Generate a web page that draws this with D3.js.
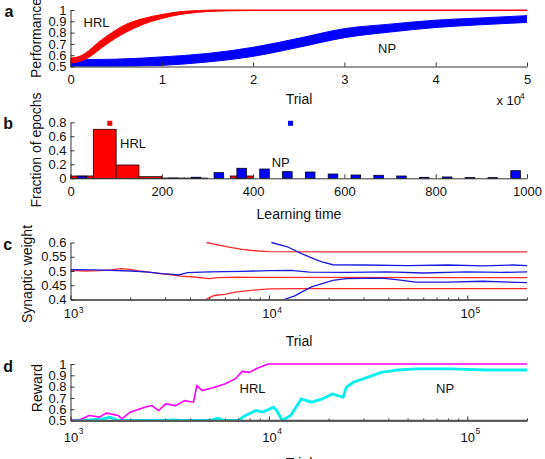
<!DOCTYPE html>
<html>
<head>
<meta charset="utf-8">
<script src="https://cdn.jsdelivr.net/npm/d3@7"></script>
<style>
  body { margin: 0; background: #fff; }
  svg { display: block; font-family: 'Liberation Sans', Arial, Helvetica, sans-serif; }
  .axis path, .axis line { stroke: #333; stroke-width: 1; }
  .axis text { font-size: 13px; fill: #111; }
  .axis text.sup { font-size: 8.5px; }
  .axis-title { font-size: 14px; fill: #111; }
  .series-label { font-size: 13px; fill: #111; }
  .panel-letter { font-size: 16px; font-weight: bold; fill: #111; }
</style>
</head>
<body>
<svg id="chart" width="545" height="459"></svg>
<script>
// panel a: performance envelopes (trial, low, high)
const hrlPerfTrials = [0, 1000, 2000, 3000, 4000, 6000, 8000, 10000, 12000, 14000, 16000, 20000, 50000]
const hrlPerfLow  = [0.53, 0.545, 0.58, 0.64, 0.70, 0.80, 0.875, 0.925, 0.96, 0.98, 0.99, 0.995, 0.995]
const hrlPerfHigh = [0.575, 0.59, 0.64, 0.71, 0.77, 0.87, 0.925, 0.96, 0.985, 0.995, 1.0, 1.0, 1.0]
const npPerfTrials = [0, 5000, 10000, 15000, 20000, 25000, 30000, 35000, 40000, 45000, 50000]
const npPerfLow  = [0.50, 0.50, 0.51, 0.54, 0.59, 0.67, 0.755, 0.805, 0.845, 0.87, 0.89]
const npPerfHigh = [0.56, 0.565, 0.585, 0.615, 0.67, 0.75, 0.835, 0.875, 0.91, 0.93, 0.95]
const perfTicks = [0.5, 0.6, 0.7, 0.8, 0.9, 1]
const trialTicks = [0, 10000, 20000, 30000, 40000, 50000]

// panel b: histogram of learning time (bins of 50)
const binEdges = [0, 50, 100, 150, 200, 250, 300, 350, 400, 450, 500, 550, 600, 650, 700, 750, 800, 850, 900, 950]
const hrlHist = [0.033, 0.70, 0.19, 0.023, 0.004, 0.003, 0, 0.033, 0, 0, 0, 0, 0, 0, 0, 0, 0, 0, 0, 0]
const npHist  = [0.03, 0, 0, 0, 0.003, 0.015, 0.081, 0.143, 0.133, 0.095, 0.09, 0.061, 0.047, 0.043, 0.033, 0.014, 0.019, 0.01, 0.01, 0.109]
const hrlMean = [86, 0.786]
const npMean = [482, 0.786]
const fracTicks = [0, 0.2, 0.4, 0.6, 0.8]
const timeTicks = [0, 200, 400, 600, 800, 1000]

// panel c: synaptic weights [trial, weight]
const hrlWeightMid = [[1000, 0.502], [1200, 0.5], [1400, 0.501], [1600, 0.504], [1800, 0.508], [2000, 0.506], [2200, 0.5],
  [2600, 0.494], [2900, 0.49], [3300, 0.486], [3600, 0.482], [4200, 0.479], [5000, 0.473], [5500, 0.477], [7000, 0.478], [200000, 0.477]]
const hrlWeightUp = [[4850, 0.6], [5500, 0.592], [6500, 0.582], [7300, 0.576], [8500, 0.571], [10000, 0.568], [20000, 0.567], [200000, 0.567]]
const hrlWeightLow = [[4800, 0.4], [5000, 0.406], [5300, 0.414], [6000, 0.418], [6760, 0.426], [8700, 0.434], [10000, 0.437], [15000, 0.438], [200000, 0.438]]
const npWeightMid = [[1000, 0.505], [1300, 0.504], [1600, 0.502], [2000, 0.5], [2400, 0.497], [2900, 0.491], [3300, 0.488], [3500, 0.486],
  [3900, 0.494], [5000, 0.497], [7300, 0.499], [10000, 0.501], [13000, 0.502], [16000, 0.496], [25000, 0.495], [40000, 0.497],
  [60000, 0.493], [100000, 0.497], [150000, 0.495], [200000, 0.497]]
const npWeightUp = [[10300, 0.6], [12400, 0.585], [14600, 0.561], [17000, 0.542], [18500, 0.532], [21000, 0.522], [30000, 0.521],
  [50000, 0.519], [80000, 0.521], [120000, 0.518], [170000, 0.521], [200000, 0.519]]
const npWeightLow = [[11900, 0.4], [13500, 0.413], [14600, 0.426], [16400, 0.444], [21000, 0.467], [24500, 0.473], [37000, 0.475],
  [45000, 0.469], [55000, 0.461], [80000, 0.461], [120000, 0.464], [200000, 0.459]]
const weightTicks = [0.4, 0.45, 0.5, 0.55, 0.6]

// panel d: reward [trial, reward]
const hrlReward = [[1000, 0.505], [1096, 0.5], [1239, 0.544], [1400, 0.53], [1514, 0.565], [1738, 0.544], [1820, 0.515], [1995, 0.574],
  [2366, 0.618], [2570, 0.632], [2780, 0.588], [3020, 0.647], [3390, 0.632], [3758, 0.676], [4169, 0.662], [4335, 0.809],
  [4603, 0.765], [5309, 0.794], [5984, 0.824], [6761, 0.868], [7328, 0.935], [7943, 0.926], [8790, 0.965], [9908, 1.0], [200000, 1.0]]
const npReward = [[1000, 0.5], [1239, 0.505], [1450, 0.515], [1580, 0.53], [1738, 0.5], [3000, 0.5], [3300, 0.506], [3600, 0.5],
  [5000, 0.5], [5520, 0.52], [6000, 0.5], [7000, 0.5], [7621, 0.544], [8610, 0.588], [9330, 0.574], [10540, 0.618], [10960, 0.588],
  [11670, 0.5], [12880, 0.544], [14550, 0.691], [16440, 0.662], [18540, 0.691], [20890, 0.735], [23660, 0.706], [24550, 0.794],
  [26670, 0.838], [31330, 0.882], [36900, 0.926], [44670, 0.947], [55210, 0.956], [82790, 0.956], [123900, 0.947], [200000, 0.947]]
const rewardTicks = [0.5, 0.6, 0.7, 0.8, 0.9, 1]
const logMajor = [1e3, 1e4, 1e5]

const X0 = 70.5, X1 = 527
const svg = d3.select('#chart')
const fmt = d => String(+d.toFixed(2))

function yAxis(y, ticks) {
  svg.append('g')
    .attr('class', 'axis')
    .attr('transform', `translate(${X0}, 0)`)
    .call(d3.axisLeft(y).tickValues(ticks).tickFormat(fmt).tickSizeInner(-4).tickSizeOuter(0).tickPadding(4))
}

function linearXAxis(x, ticks, y0, format) {
  svg.append('g')
    .attr('class', 'axis')
    .attr('transform', `translate(0, ${y0})`)
    .call(d3.axisBottom(x).tickValues(ticks).tickFormat(format).tickSizeInner(-4).tickSizeOuter(0).tickPadding(8))
}

function logXAxis(x, y0, pad, supY) {
  let minor = []
  for (let k = 3; k <= 5; k++)
    for (let m = 2; m <= 9; m++)
      if (m * 10 ** k <= 2e5) minor.push(m * 10 ** k)
  svg.append('g')
    .attr('class', 'axis')
    .attr('transform', `translate(0, ${y0})`)
    .call(d3.axisBottom(x).tickValues(minor).tickFormat('').tickSizeInner(-2).tickSizeOuter(0))
  let major = svg.append('g')
    .attr('class', 'axis')
    .attr('transform', `translate(0, ${y0})`)
    .call(d3.axisBottom(x).tickValues(logMajor).tickFormat(() => '10').tickSizeInner(-4).tickSizeOuter(0).tickPadding(pad))
  major.selectAll('.tick').append('text')
    .attr('class', 'sup')
    .attr('x', 7.8)
    .attr('y', supY)
    .attr('dy', '0.71em')
    .style('text-anchor', 'start')
    .text(d => Math.round(Math.log10(d)))
}

function label(cls, x, y, txt, anchor) {
  return svg.append('text')
    .attr('class', cls)
    .attr('x', x)
    .attr('y', y)
    .style('text-anchor', anchor || 'start')
    .text(txt)
}

function yTitle(x, y, txt) {
  svg.append('text')
    .attr('class', 'axis-title')
    .attr('transform', `translate(${x}, ${y}) rotate(-90)`)
    .style('text-anchor', 'middle')
    .text(txt)
}

function clip(id, y) {
  svg.append('clipPath').attr('id', id)
    .append('rect')
      .attr('x', X0).attr('y', y.range()[1] - 2)
      .attr('width', X1 - X0).attr('height', y.range()[0] - y.range()[1] + 2)
  return svg.append('g').attr('clip-path', `url(#${id})`)
}

// ---- panel a ----
{
  let x = d3.scaleLinear().domain([0, 50000]).range([X0, X1])
  let y = d3.scaleLinear().domain([0.5, 1]).range([66.5, 10])
  let g = clip('clip-a', y)
  let band = (trials, lo, hi) => d3.area()
    .x((d, i) => x(trials[i]))
    .y0((d, i) => y(lo[i]))
    .y1((d, i) => y(hi[i]))
    .curve(d3.curveMonotoneX)(trials)
  g.append('path')
    .attr('d', band(npPerfTrials, npPerfLow, npPerfHigh))
    .attr('fill', '#0000ff').attr('stroke', '#0000ff').attr('stroke-width', 1)
  g.append('path')
    .attr('d', band(hrlPerfTrials, hrlPerfLow, hrlPerfHigh))
    .attr('fill', '#ff0000').attr('stroke', '#ff0000').attr('stroke-width', 1)
  yAxis(y, perfTicks)
  linearXAxis(x, trialTicks, 66.5, d => d / 10000)
  label('series-label', 83.5, 26.5, 'HRL')
  label('series-label', 378, 52.5, 'NP')
  label('axis-title', 299, 104, 'Trial', 'middle')
  label('series-label', 496.5, 105, 'x 10')
  label('series-label', 520, 99, '4').style('font-size', '8.5px')
  yTitle(41, 38, 'Performance')
  label('panel-letter', 4.5, 16.7, 'a')
}

// ---- panel b ----
{
  let x = d3.scaleLinear().domain([0, 1000]).range([X0, X1])
  let y = d3.scaleLinear().domain([0, 0.8]).range([178.3, 122.3])
  let hrl = binEdges.map((e, i) => ({ e, v: hrlHist[i] })).filter(d => d.v > 0)
  let np = binEdges.map((e, i) => ({ e, v: npHist[i] })).filter(d => d.v > 0)
  svg.selectAll('.bar-hrl')
    .data(hrl)
    .join('rect')
      .attr('class', 'bar-hrl')
      .attr('x', d => x(d.e))
      .attr('width', d => x(d.e + 50) - x(d.e))
      .attr('y', d => y(d.v))
      .attr('height', d => y(0) - y(d.v))
      .attr('fill', '#ff0000').attr('stroke', '#1a0000').attr('stroke-width', 0.8)
  svg.selectAll('.bar-np')
    .data(np)
    .join('rect')
      .attr('class', 'bar-np')
      .attr('x', d => x(d.e + 14.5))
      .attr('width', d => x(d.e + 35.5) - x(d.e + 14.5))
      .attr('y', d => y(d.v))
      .attr('height', d => y(0) - y(d.v))
      .attr('fill', '#0000ff').attr('stroke', '#00001a').attr('stroke-width', 0.8)
  svg.append('rect')
    .attr('x', x(hrlMean[0]) - 2.5).attr('y', y(hrlMean[1]) - 2.5)
    .attr('width', 5).attr('height', 5).attr('fill', '#ff0000')
  svg.append('rect')
    .attr('x', x(npMean[0]) - 2.5).attr('y', y(npMean[1]) - 2.5)
    .attr('width', 5).attr('height', 5).attr('fill', '#0000ff')
  yAxis(y, fracTicks)
  linearXAxis(x, timeTicks, 178.3, d => d)
  label('series-label', 120, 148.3, 'HRL')
  label('series-label', 271.7, 166.7, 'NP')
  label('axis-title', 299, 219, 'Learning time', 'middle')
  yTitle(41, 150, 'Fraction of epochs')
  label('panel-letter', 3.3, 129, 'b')
}

// ---- panel c ----
{
  let x = d3.scaleLog().domain([1e3, 2e5]).range([X0, X1])
  let y = d3.scaleLinear().domain([0.4, 0.6]).range([299.5, 242.5])
  let g = clip('clip-c', y)
  let line = d3.line().x(d => x(d[0])).y(d => y(d[1]))
  let series = [
    [hrlWeightMid, '#ff2a2a'], [hrlWeightUp, '#ff2a2a'], [hrlWeightLow, '#ff2a2a'],
    [npWeightMid, '#1a1ae0'], [npWeightUp, '#1a1ae0'], [npWeightLow, '#1a1ae0']
  ]
  series.forEach(s => {
    g.append('path')
      .attr('d', line(s[0]))
      .attr('fill', 'none')
      .attr('stroke', s[1])
      .attr('stroke-width', 1.3)
  })
  yAxis(y, weightTicks)
  logXAxis(x, 299.5, 9, 7)
  label('axis-title', 299, 346, 'Trial', 'middle')
  yTitle(31.5, 274, 'Synaptic weight')
  label('panel-letter', 3.3, 250, 'c')
}

// ---- panel d ----
{
  let x = d3.scaleLog().domain([1e3, 2e5]).range([X0, X1])
  let y = d3.scaleLinear().domain([0.5, 1]).range([420.5, 364])
  let g = clip('clip-d', y)
  let line = d3.line().x(d => x(d[0])).y(d => y(d[1]))
  g.append('path')
    .attr('d', line(npReward))
    .attr('fill', 'none').attr('stroke', '#00f0f0').attr('stroke-width', 2.8)
  g.append('path')
    .attr('d', line(hrlReward))
    .attr('fill', 'none').attr('stroke', '#ff00ff').attr('stroke-width', 1.6)
  yAxis(y, rewardTicks)
  logXAxis(x, 420.5, 12.5, 7.5)
  svg.append('line')
    .attr('x1', X0).attr('x2', X1).attr('y1', 420.5).attr('y2', 420.5)
    .attr('stroke', '#555').attr('stroke-width', 1.6)
  label('series-label', 239.5, 393, 'HRL')
  label('series-label', 436, 393, 'NP')
  label('axis-title', 299, 468, 'Trial', 'middle')
  yTitle(41.5, 388, 'Reward')
  label('panel-letter', 3.3, 372, 'd')
}
</script>
</body>
</html>
